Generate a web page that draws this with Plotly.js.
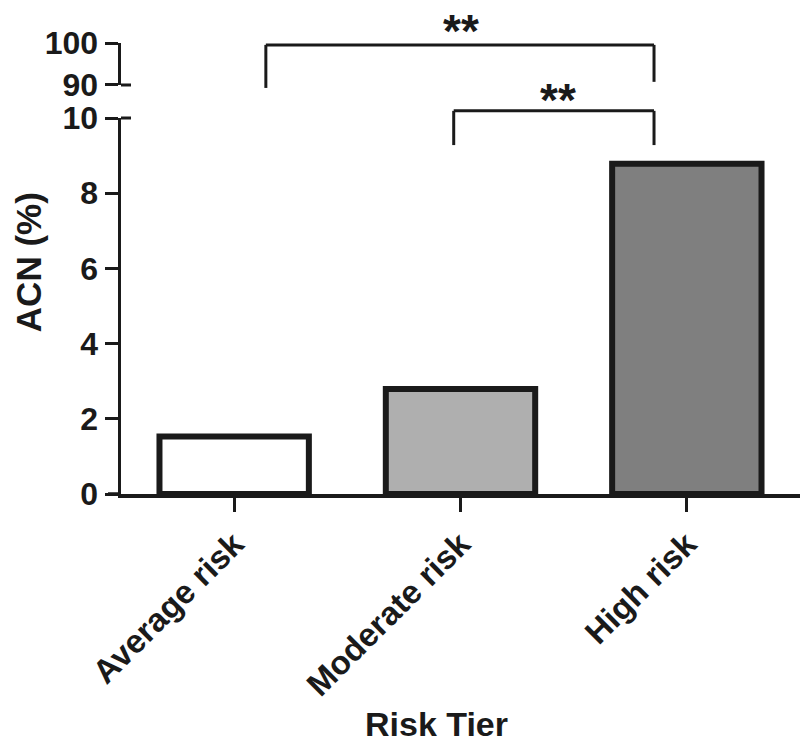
<!DOCTYPE html>
<html>
<head>
<meta charset="utf-8">
<script src="https://cdn.plot.ly/plotly-3.0.1.min.js"></script>
<style>html,body{margin:0;padding:0;background:#fff;}#chart{width:800px;height:744px;}</style>
</head>
<body>
<div id="chart"></div>
<script>
// ---- data ----
const categories = ['Average risk', 'Moderate risk', 'High risk'];
const acnValues = [1.53, 2.79, 8.78];
const barColors = ['#ffffff', '#afafaf', '#7f7f7f'];
const lowerRange = [0, 10];
const upperRange = [90, 100];
const lowerTicks = [0, 2, 4, 6, 8, 10];
const upperTicks = [90, 100];
const xTitle = 'Risk Tier';
const yTitle = 'ACN (%)';
// significance brackets: category-index positions and axis values
const sigLabels = ['**', '**'];
const sigX0 = [0.14, 0.97];
const sigX1 = [1.855, 1.855];
const sigAxis = ['upper', 'lower'];
const sigTop = [99.55, 10.19];
const sigLeftEnd = [89.3, 9.28];
const sigRightEnd = [90.75, 9.28];
const sigTextX = [1.0, 1.43];
const sigTextGap = [-14, -17];

// ---- layout helpers ----
const ink = '#1a1a1a';
const fontFam = 'Liberation Sans, Arial, Helvetica, sans-serif';
const domLower = [0, 0.8337];
const domUpper = [0.9069, 1];
function toPaper(v, which) {
  const r = which === 'upper' ? upperRange : lowerRange;
  const d = which === 'upper' ? domUpper : domLower;
  return d[0] + (v - r[0]) / (r[1] - r[0]) * (d[1] - d[0]);
}

const shapes = [];
const annotations = [];
const bracketLine = {color: ink, width: 3};
for (let i = 0; i < sigLabels.length; i++) {
  const yt = toPaper(sigTop[i], sigAxis[i]);
  shapes.push({type: 'line', xref: 'x', yref: 'paper', x0: sigX0[i], x1: sigX1[i], y0: yt, y1: yt, line: bracketLine});
  shapes.push({type: 'line', xref: 'x', yref: 'paper', x0: sigX0[i], x1: sigX0[i], y0: yt, y1: toPaper(sigLeftEnd[i], sigAxis[i]), line: bracketLine});
  shapes.push({type: 'line', xref: 'x', yref: 'paper', x0: sigX1[i], x1: sigX1[i], y0: yt, y1: toPaper(sigRightEnd[i], sigAxis[i]), line: bracketLine});
  annotations.push({
    text: sigLabels[i], xref: 'x', yref: 'paper', x: sigTextX[i],
    y: yt, yanchor: 'bottom', yshift: sigTextGap[i], showarrow: false,
    font: {family: fontFam, size: 46, color: ink, weight: 'bold'}
  });
}
// broken-axis details: x-axis line extends left under y ticks, segment ends get inward ticks
shapes.push({type: 'line', xref: 'paper', xsizemode: 'pixel', xanchor: 0, x0: -13, x1: 0, yref: 'paper', y0: 0, y1: 0, line: {color: ink, width: 3.5}});
shapes.push({type: 'line', xref: 'paper', xsizemode: 'pixel', xanchor: 0, x0: 0, x1: 10, yref: 'paper', y0: domUpper[0], y1: domUpper[0], line: {color: ink, width: 3}});
shapes.push({type: 'line', xref: 'paper', xsizemode: 'pixel', xanchor: 0, x0: 0, x1: 10, yref: 'paper', y0: domLower[1], y1: domLower[1], line: {color: ink, width: 3}});

annotations.push({
  text: yTitle, xref: 'paper', yref: 'paper', x: -0.137, y: 0.514,
  xanchor: 'center', yanchor: 'middle', textangle: -90, showarrow: false,
  font: {family: fontFam, size: 35, color: ink, weight: 'bold'}
});
annotations.push({
  text: xTitle, xref: 'paper', yref: 'paper', x: 0.465, y: -0.51,
  xanchor: 'center', yanchor: 'middle', showarrow: false,
  font: {family: fontFam, size: 34, color: ink, weight: 'bold'}
});

const tickFont = {family: fontFam, size: 32, color: ink, weight: 'bold'};
const yAxisCommon = {
  showgrid: false, zeroline: false, showline: true, linecolor: ink, linewidth: 3.5,
  ticks: 'outside', ticklen: 13, tickwidth: 3, tickcolor: ink, tickfont: tickFont,
  tickmode: 'array', anchor: 'x', fixedrange: true
};

const traces = [
  {
    type: 'bar', x: categories, y: acnValues, width: 0.66,
    marker: {color: barColors, line: {color: ink, width: 6}},
    hoverinfo: 'x+y', showlegend: false
  },
  {type: 'scatter', x: [], y: [], xaxis: 'x', yaxis: 'y2', showlegend: false, hoverinfo: 'skip'}
];

const layout = {
  width: 800, height: 744,
  margin: {l: 121, r: 0, t: 43, b: 250, pad: 0},
  paper_bgcolor: '#ffffff', plot_bgcolor: '#ffffff',
  font: {family: fontFam, color: ink},
  showlegend: false,
  xaxis: {
    type: 'category', range: [-0.5, 2.5], showgrid: false, zeroline: false,
    showline: true, linecolor: ink, linewidth: 3.5,
    ticks: 'outside', ticklen: 14, tickwidth: 3, tickcolor: ink,
    tickangle: -45, tickfont: {family: fontFam, size: 33, color: ink, weight: 'bold'},
    anchor: 'y', fixedrange: true
  },
  yaxis: Object.assign({}, yAxisCommon, {domain: domLower, range: lowerRange, tickvals: lowerTicks}),
  yaxis2: Object.assign({}, yAxisCommon, {domain: domUpper, range: upperRange, tickvals: upperTicks}),
  shapes: shapes,
  annotations: annotations
};

Plotly.newPlot('chart', traces, layout, {displayModeBar: false, staticPlot: true});
</script>
</body>
</html>
